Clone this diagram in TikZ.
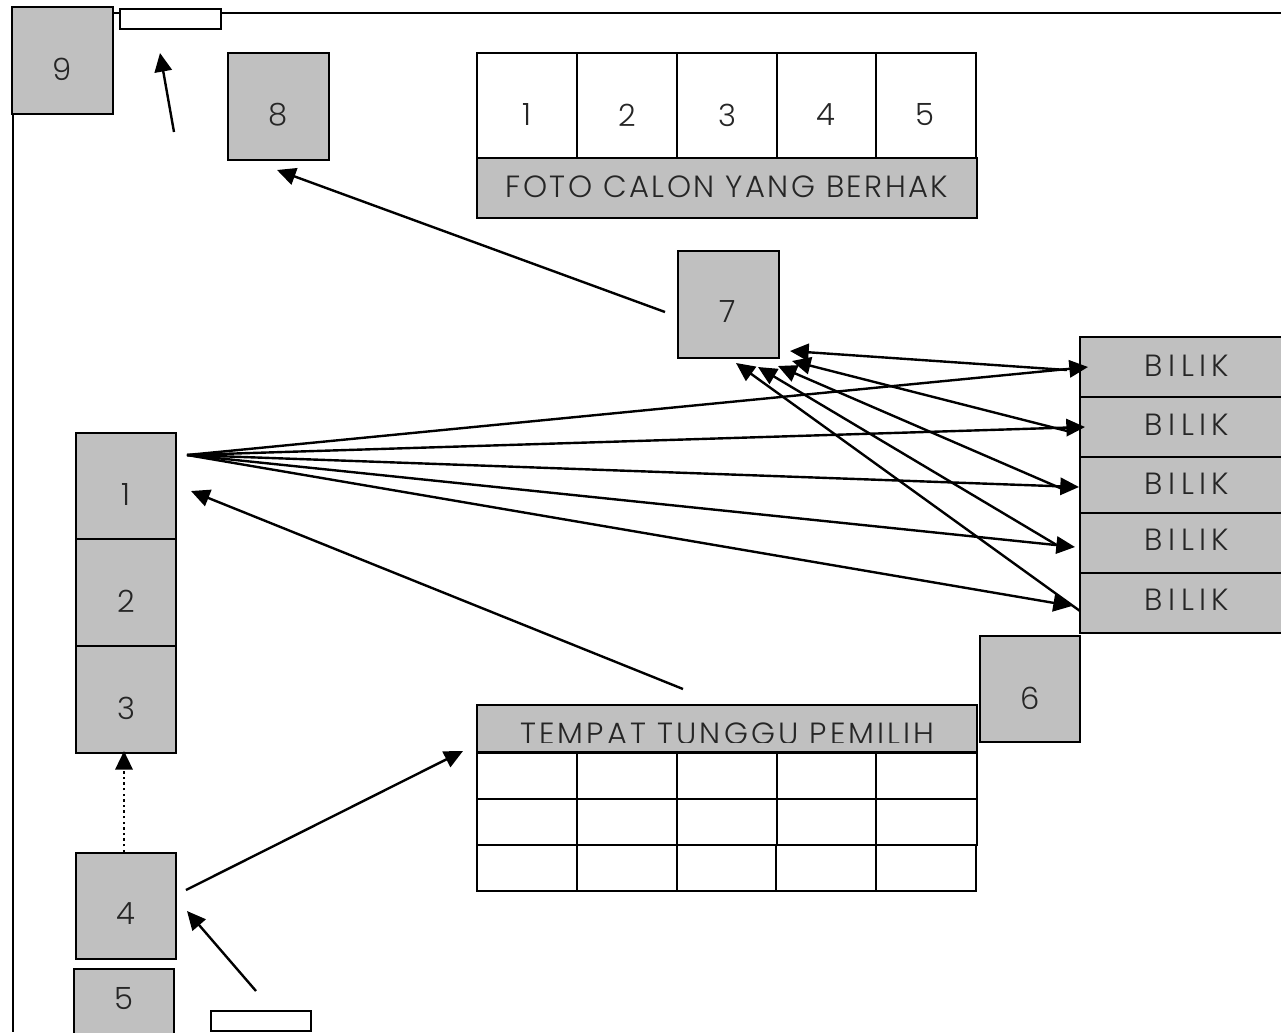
\documentclass[tikz,border=0pt]{standalone}
\usepackage{fontspec}
\setmainfont{Poppins Light}
\usetikzlibrary{arrows.meta}
\tikzset{
  x=0.75pt,y=-0.75pt,
  boxw/.style={draw=black,line width=1.5pt,inner sep=0pt,fill=white},
  boxg/.style={boxw,fill=boxgray},
  lab/.style={inner sep=0pt,yshift=-0.7pt,font=\fontsize{23}{23}\selectfont,text=black!85},
  wide/.style={inner sep=0pt,text=black!85},
  arr/.style={line width=1.8pt,-{Triangle[length=14pt,width=13pt]}},
  dotln/.style={dash pattern=on 1.8pt off 2.4pt},
  frameln/.style={line width=1.5pt}
}
\definecolor{boxgray}{HTML}{C0C0C0}
\newfontfamily\fotofont[LetterSpace=8]{Poppins Light}
\newfontfamily\waitfont[LetterSpace=10]{Poppins Light}
\newfontfamily\bilikfont[LetterSpace=18]{Poppins Light}
\newcommand{\bx}[6]{\node[#6,minimum width={(#4-#2)*0.75pt},minimum height={(#5-#3)*0.75pt}] (#1) at ({(#2+#4)/2},{(#3+#5)/2}) {};}
\begin{document}
\begin{tikzpicture}
\useasboundingbox (0,0) rectangle (1281,1032);
\clip (0,0) rectangle (1281,1032);
\bx{nine}{12}{7}{113}{114}{boxg}
\bx{top}{120}{8.5}{221}{29}{boxw}
\bx{eight}{228}{53}{329}{160}{boxg}
\coordinate (fa) at (113,13); \coordinate (fb) at (120,13);
\coordinate (fc) at (221,13); \coordinate (fd) at (1281,13);
\coordinate (fe) at (13,114); \coordinate (ff) at (13,1032);
\draw[frameln] (fa)--(fb) (fc)--(fd) (fe)--(ff);
% photo cells
\bx{p1}{477}{53}{577}{158}{boxw}
\bx{p2}{577}{53}{677}{158}{boxw}
\bx{p3}{677}{53}{777}{158}{boxw}
\bx{p4}{777}{53}{876}{158}{boxw}
\bx{p5}{876}{53}{976}{158}{boxw}
\bx{foto}{477}{158}{977}{218}{boxg}
\node[lab] (t1) at (527,114) {1};
\node[lab] (t2) at (627,114) {2};
\node[lab] (t3) at (727,114) {3};
\node[lab] (t4) at (826,114) {4};
\node[lab] (t5) at (925,114) {5};
\node[wide,font=\fontsize{23}{23}\fotofont] (tfoto) at (727,187) {FOTO CALON YANG BERHAK};
\bx{seven}{678}{251}{779}{358}{boxg}
\node[lab] (t7) at (728,311) {7};
\node[lab] (t8) at (278,114) {8};
\node[lab] (t9) at (62,68) {9};
% bilik
\bx{b1}{1080}{337}{1294}{397}{boxg}
\bx{b2}{1080}{397}{1294}{457}{boxg}
\bx{b3}{1080}{457}{1294}{513}{boxg}
\bx{b4}{1080}{513}{1294}{573}{boxg}
\bx{b5}{1080}{573}{1294}{633}{boxg}
\node[wide,font=\fontsize{23}{23}\bilikfont] (tb1) at (1187,366) {BILIK};
\node[wide,font=\fontsize{23}{23}\bilikfont] (tb2) at (1187,425) {BILIK};
\node[wide,font=\fontsize{23}{23}\bilikfont] (tb3) at (1187,484) {BILIK};
\node[wide,font=\fontsize{23}{23}\bilikfont] (tb4) at (1187,540) {BILIK};
\node[wide,font=\fontsize{23}{23}\bilikfont] (tb5) at (1187,600) {BILIK};
\bx{six}{980}{636}{1080}{742}{boxg}
\node[lab] (t6) at (1030,697) {6};
% left column
\bx{one}{76}{433}{176}{539}{boxg}
\bx{two}{76}{539}{176}{646}{boxg}
\bx{three}{76}{646}{176}{753}{boxg}
\bx{four}{76}{853}{176}{959}{boxg}
\bx{five}{74}{969}{174}{1060}{boxg}
\node[lab] (l1) at (126,494) {1};
\node[lab] (l2) at (126,600) {2};
\node[lab] (l3) at (126,707) {3};
\node[lab] (l4) at (126,913) {4};
\node[lab] (l5) at (124,998) {5};
\bx{bottom}{211}{1010.5}{311}{1030.5}{boxw}
% waiting area
\bx{wait}{477}{704.5}{977}{751.5}{boxg}
\begin{scope}
\clip (477,700) rectangle (977,742.7);
\node[wide,font=\fontsize{23}{23}\waitfont] (twait) at (727.5,733.5) {TEMPAT TUNGGU PEMILIH};
\end{scope}
\foreach \a/\b/\n in {477/577/1,577/677/2,677/777/3,777/876/4,876/976.5/5}{
  \bx{ra\n}{\a}{752.5}{\b}{799}{boxw}
  \bx{rb\n}{\a}{799}{\b}{845}{boxw}
}
\foreach \a/\b/\n in {477/577/1,577/676.5/2,676.5/776/3,776/875.5/4,875.5/976/5}{
  \bx{rc\n}{\a}{845}{\b}{891}{boxw}
}
% connector ends
\coordinate (o) at (187,455);
\coordinate (i1) at (1088,367); \coordinate (i2) at (1085,427); \coordinate (i3) at (1079,487); \coordinate (i4) at (1075,547); \coordinate (i5) at (1072,606);
\coordinate (r1) at (1067,370); \coordinate (r2) at (1067,431); \coordinate (r3) at (1067,491); \coordinate (r4) at (1060,547); \coordinate (r5) at (1080,611);
\coordinate (s1) at (790,351); \coordinate (s2) at (792,361); \coordinate (s3) at (778,366); \coordinate (s4) at (758,367); \coordinate (s5) at (736,363);
\foreach \k in {1,...,5}{\draw[arr] (o)--(i\k); \draw[arr] (r\k)--(s\k);}
\coordinate (a1) at (665,312); \coordinate (a2) at (277,170);
\draw[arr] (a1)--(a2);
\coordinate (c1) at (683,689); \coordinate (c2) at (191,491);
\draw[arr] (c1)--(c2);
\coordinate (d1) at (186,890); \coordinate (d2) at (463,751);
\draw[arr] (d1)--(d2);
\coordinate (e1) at (256,991); \coordinate (e2) at (187,911);
\draw[arr] (e1)--(e2);
\coordinate (g1) at (174,132); \coordinate (g2) at (160,53);
\draw[arr] (g1)--(g2);
\coordinate (h1) at (124,852); \coordinate (h2) at (124,751);
\draw[arr,dotln] (h1)--(h2);
\end{tikzpicture}
\end{document}
